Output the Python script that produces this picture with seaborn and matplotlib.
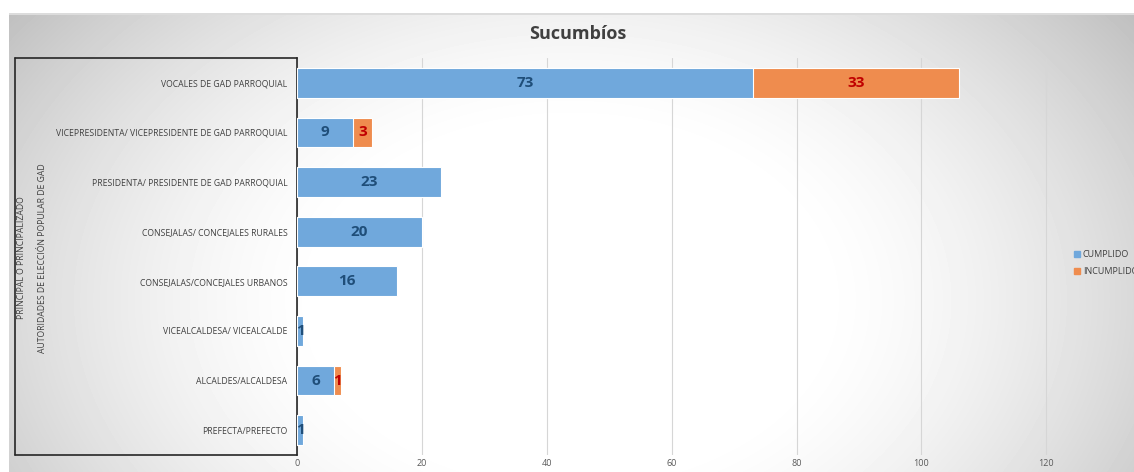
import numpy as np
import pandas as pd
import matplotlib
matplotlib.use("Agg")
import matplotlib.pyplot as plt
from matplotlib.lines import Line2D
import seaborn as sns

# Data
categories = [
    "VOCALES DE GAD PARROQUIAL",
    "VICEPRESIDENTA/ VICEPRESIDENTE DE GAD PARROQUIAL",
    "PRESIDENTA/ PRESIDENTE DE GAD PARROQUIAL",
    "CONSEJALAS/ CONCEJALES RURALES",
    "CONSEJALAS/CONCEJALES URBANOS",
    "VICEALCALDESA/ VICEALCALDE",
    "ALCALDES/ALCALDESA",
    "PREFECTA/PREFECTO",
]
cumplido = [73, 9, 23, 20, 16, 1, 6, 1]
incumplido = [33, 3, 0, 0, 0, 0, 1, 0]
x_ticks = [0, 20, 40, 60, 80, 100, 120]

BLUE = "#70A8DC"
ORANGE = "#EF8C4E"
BLUE_TXT = "#1F4E79"
RED_TXT = "#C00000"

df = pd.DataFrame({"cat": categories, "cumplido": cumplido, "incumplido": incumplido})
df["total"] = df["cumplido"] + df["incumplido"]

sns.set_theme(style="white")
plt.rcParams["font.family"] = ["Open Sans", "DejaVu Sans"]

fig = plt.figure(figsize=(11.34, 4.72), dpi=100)

# radial gradient background like the Excel chart area
bg = fig.add_axes([0, 0, 1, 1], zorder=-10)
yy, xx = np.mgrid[0:472, 0:1134]
r = np.sqrt(((xx - 570) / 600.0) ** 2 + ((yy - 300) / 420.0) ** 2)
shade = 1.0 - 0.25 * np.clip((r - 0.4) / 0.76, 0, None) ** 1.5
shade = np.clip(shade, 0.75, 1.0)
shade[:13, :] = 1.0
shade[:, :9] = 1.0
shade[13:15, 9:] = 0.86
bg.imshow(shade, cmap="gray", vmin=0, vmax=1, aspect="auto", interpolation="bilinear")
bg.axis("off")

ax = fig.add_axes([297 / 1134, 1 - 455 / 472, (1062 - 297) / 1134, (455 - 58) / 472])
ax.set_facecolor("none")

sns.barplot(data=df, y="cat", x="total", color=ORANGE, saturation=1, orient="h", width=0.6,
            edgecolor="white", linewidth=0.8, ax=ax, zorder=3)
sns.barplot(data=df, y="cat", x="cumplido", color=BLUE, saturation=1, orient="h", width=0.6,
            edgecolor="white", linewidth=0.8, ax=ax, zorder=4)

for i, row in df.iterrows():
    if row["cumplido"] > 0:
        ax.text(row["cumplido"] / 2, i, str(row["cumplido"]), ha="center", va="center",
                fontsize=11, fontweight="bold", color=BLUE_TXT, zorder=6)
    if row["incumplido"] > 0:
        ax.text(row["cumplido"] + row["incumplido"] / 2, i, str(row["incumplido"]),
                ha="center", va="center", fontsize=11, fontweight="bold", color=RED_TXT, zorder=6)

ax.set_xlim(0, 122.5)
ax.set_ylim(7.5, -0.5)
ax.set_xticks(x_ticks)
ax.xaxis.grid(True, color="#d6d6d6", linewidth=0.8, zorder=0)
ax.set_axisbelow(True)
ax.tick_params(axis="x", labelsize=6.5, colors="#595959", length=0, pad=3)
ax.tick_params(axis="y", labelsize=6.2, colors="#404040", length=0, pad=7)
ax.set_xlabel("")
ax.set_ylabel("")
for side in ["top", "right", "bottom"]:
    ax.spines[side].set_visible(False)
ax.spines["left"].set_color("#262626")
ax.spines["left"].set_linewidth(1.2)

# bracket box around the category group labels
for xs, ys in [([15, 297], [58, 58]), ([15, 15], [58, 455]), ([15, 297], [455, 455])]:
    fig.add_artist(Line2D([x / 1134 for x in xs], [1 - y / 472 for y in ys],
                          color="#262626", linewidth=1.2))

fig.text(22 / 1134, 1 - 258 / 472, "PRINCIPAL O PRINCIPALIZADO", rotation=90,
         ha="center", va="center", fontsize=6.2, color="#404040")
fig.text(43 / 1134, 1 - 258 / 472, "AUTORIDADES DE ELECCIÓN POPULAR DE GAD", rotation=90,
         ha="center", va="center", fontsize=6.2, color="#404040")

fig.text(578 / 1134, 1 - 34 / 472, "Sucumbíos", ha="center", va="center",
         fontsize=13, fontweight="bold", color="#404040")

handles = [
    Line2D([], [], marker="s", linestyle="", markersize=4, color=BLUE, label="CUMPLIDO"),
    Line2D([], [], marker="s", linestyle="", markersize=4, color=ORANGE, label="INCUMPLIDO"),
]
leg = fig.legend(handles=handles, loc="center left", bbox_to_anchor=(1070 / 1134, 1 - 263 / 472),
                 frameon=False, fontsize=6.5, handletextpad=0.2, labelspacing=0.9,
                 borderaxespad=0, handlelength=0.8)
for t in leg.get_texts():
    t.set_color("#404040")

fig.savefig("out.png", dpi=100)
